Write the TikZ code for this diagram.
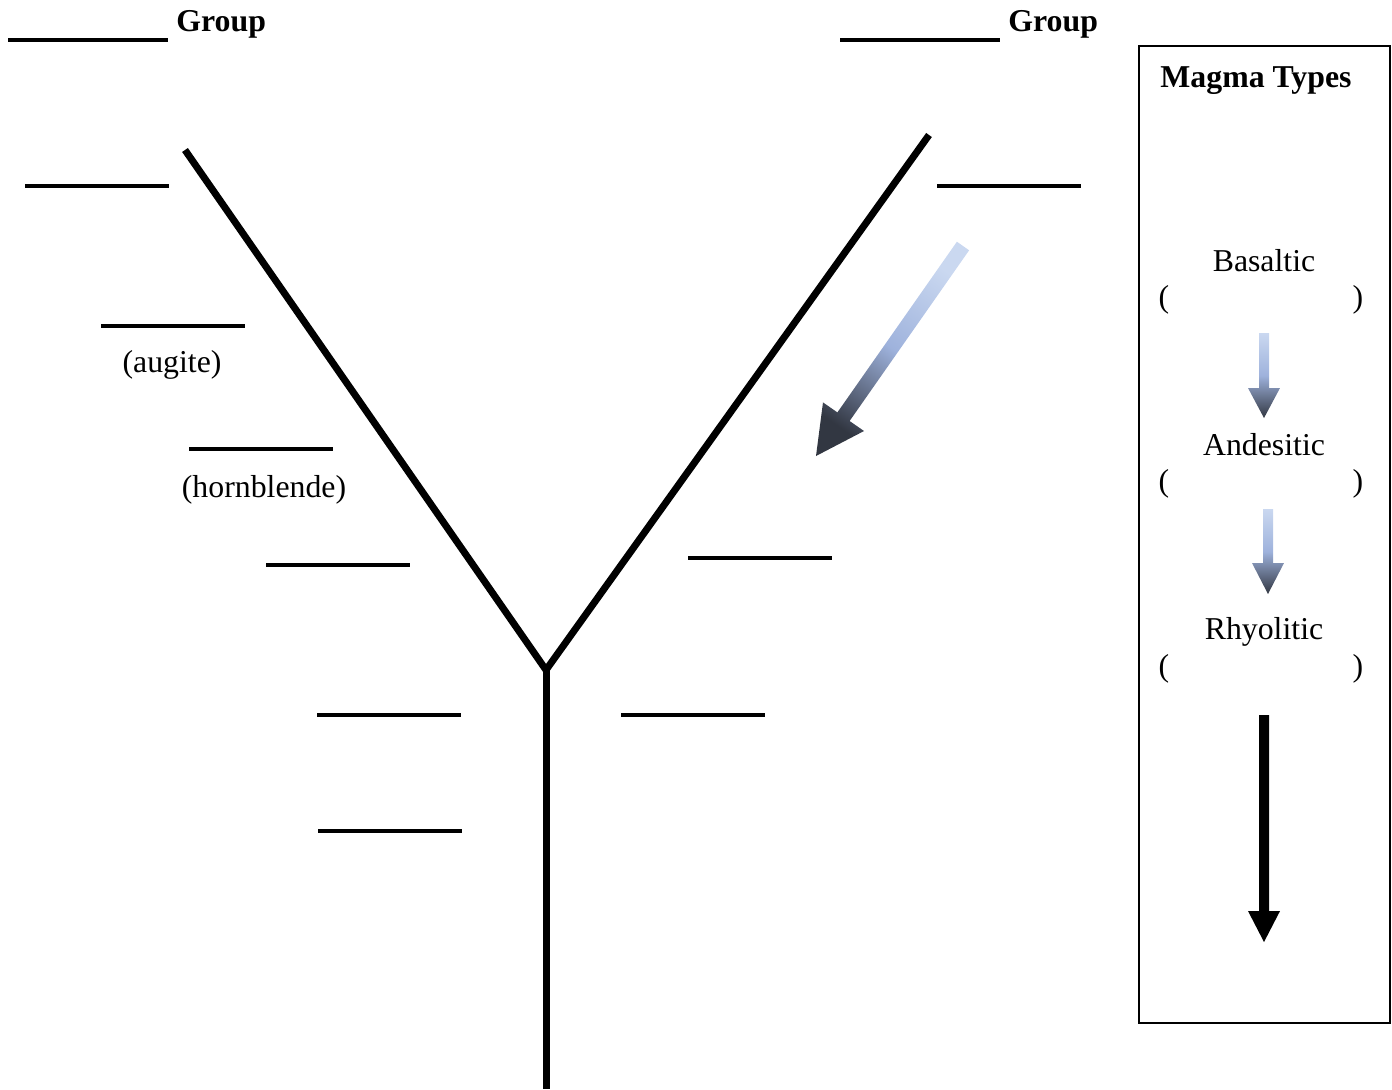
\documentclass[tikz,border=0pt]{standalone}
\usepackage{fontspec}
\setmainfont{Liberation Serif}
\usetikzlibrary{positioning}
\definecolor{arrlight}{RGB}{202,216,240}
\definecolor{arrmid}{RGB}{158,178,220}
\definecolor{arrdark}{RGB}{50,55,66}
\tikzstyle{word} = [font=\fontsize{15.9}{19}\selectfont, inner sep=0pt]
\tikzstyle{title} = [font=\fontsize{15.9}{19}\selectfont\bfseries, inner sep=0pt]
\tikzstyle{blank} = [line width=2pt]
\tikzstyle{branch} = [line width=3.5pt]
\tikzstyle{fade} = [top color=arrlight, bottom color=arrdark, middle color=arrmid]

\begin{document}
\begin{tikzpicture}[x=0.5pt, y=-0.5pt]
        \useasboundingbox (0,0) rectangle (1392,1089);

        % group headings
        \draw[blank] (8,40) -- (168,40);
        \node [title, anchor=base west] (leftgroup) at (176,31) {Group};
        \draw[blank] (840,40) -- (1000,40);
        \node [title, anchor=base west] (rightgroup) at (1008,31) {Group};

        % the Y
        \coordinate (lefttop) at (185,150);
        \coordinate (righttop) at (929,135);
        \coordinate (fork) at (546,670);
        \coordinate (stemend) at (546,1089);
        \draw[branch] (lefttop) -- (fork) -- (righttop);
        \draw[branch] (fork) -- (stemend);

        % blanks
        \foreach \x/\y in {25/186, 101/326, 189/449, 266/565, 317/715, 318/831, 937/186, 688/558, 621/715}
            \draw[blank] (\x,\y) -- +(144,0);
        \node [word, anchor=base] (augite) at (172,372) {(augite)};
        \node [word, anchor=base] (hornblende) at (264,497) {(hornblende)};

        % shaded arrow along the right arm
        \shade[fade, shading angle=-35] (956.9,241.7) -- (969.1,250.3) -- (849.6,421.0) -- (864.0,431.0)
            -- (816,456) -- (823.0,402.4) -- (837.4,412.4) -- cycle;

        % magma types box
        \draw[line width=0.75pt] (1139,46) rectangle (1390,1023);
        \node [title, anchor=base] (magma) at (1256,87) {Magma Types};

        \node [word, anchor=base] (basaltic) at (1264,271) {Basaltic};
        \node [word, anchor=base] (bopen) at (1164,307) {(};
        \node [word, anchor=base] (bclose) at (1358,307) {)};

        \node [word, anchor=base] (andesitic) at (1264,455) {Andesitic};
        \node [word, anchor=base] (aopen) at (1164,491) {(};
        \node [word, anchor=base] (aclose) at (1358,491) {)};

        \node [word, anchor=base] (rhyolitic) at (1264,639) {Rhyolitic};
        \node [word, anchor=base] (ropen) at (1164,676) {(};
        \node [word, anchor=base] (rclose) at (1358,676) {)};

        \shade[fade] (1259,333) -- (1269,333) -- (1269,388) -- (1280,388) -- (1264,418) -- (1248,388) -- (1259,388) -- cycle;
        \shade[fade] (1263,509) -- (1273,509) -- (1273,563) -- (1284,563) -- (1268,594) -- (1252,563) -- (1263,563) -- cycle;
        \fill (1259,715) -- (1269,715) -- (1269,911) -- (1280,911) -- (1264,942) -- (1248,911) -- (1259,911) -- cycle;
    \end{tikzpicture}
\end{document}
